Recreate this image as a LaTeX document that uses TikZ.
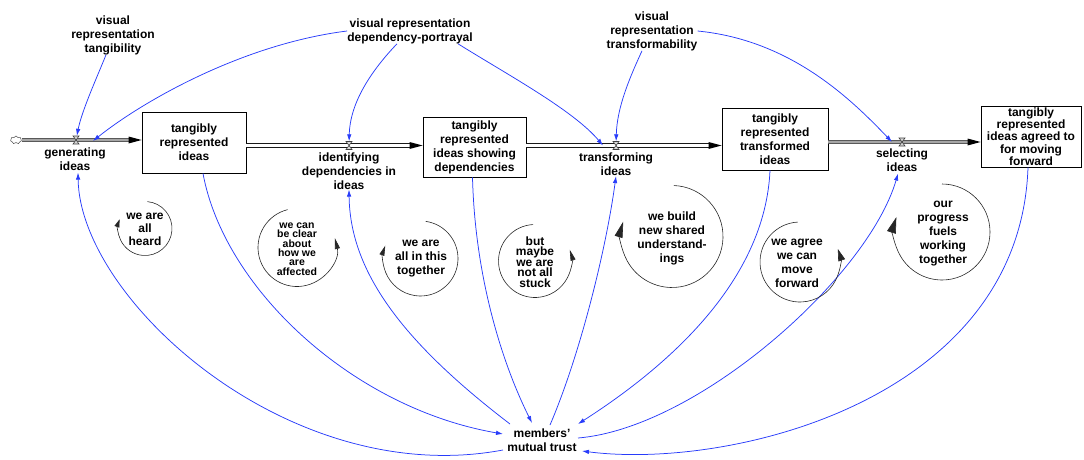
\documentclass[tikz,border=0pt]{standalone}
\usepackage{fontspec}
\setmainfont{Liberation Sans}
\usetikzlibrary{arrows.meta,shapes.symbols}
\definecolor{linkblue}{RGB}{40,60,250}
\begin{document}
\begin{tikzpicture}[x=1pt,y=-1pt,
  lbl/.style={font=\bfseries\fontsize{12}{14}\selectfont, align=center, inner sep=0pt},
  stock/.style={lbl, draw, line width=0.9pt},
  valve/.style={inner sep=0pt, minimum size=8pt},
  valveshape/.style={draw=black!75, fill=black!15, line width=0.6pt},
  pipe/.style={draw=black!90, double=white, double distance=2.6pt, line width=0.85pt},
  gpipe/.style={draw=black!65, double=black!35, double distance=2.4pt, line width=0.9pt},
  pipetip/.style={fill=black},
  link/.style={draw=linkblue, line width=0.75pt, -{Latex[length=7pt,width=4.5pt]}},
  loopline/.style={draw=black!85, line width=0.6pt},
]
\useasboundingbox (0,0) rectangle (1084,460);

% stocks
\node[stock, minimum width=104pt, minimum height=61pt] (s1) at (194,142.5) {tangibly\\represented\\ideas};
\node[stock, minimum width=103pt, minimum height=60pt] (s2) at (474.5,147) {tangibly\\represented\\ideas showing\\dependencies};
\node[stock, minimum width=106pt, minimum height=62pt] (s3) at (775,139) {tangibly\\represented\\transformed\\ideas};
\node[stock, minimum width=100pt, minimum height=61pt, font=\bfseries\fontsize{12}{11}\selectfont] (s4) at (1031,136.5) {tangibly\\represented\\ideas agreed to\\for moving\\forward};

% source cloud and valves
\node[cloud, draw=black!70, cloud puffs=7, minimum width=11pt, minimum height=8pt, inner sep=0pt, line width=0.5pt] (src) at (16,140) {};
\node[valve] (genv) at (76,140) {};
\node[valve] (identv) at (349,145.5) {};
\node[valve] (transv) at (616,145.5) {};
\node[valve] (selv) at (902,142) {};

% pipes
\coordinate (p1e) at (s1.west |- src.east);
\coordinate (p2s) at (s1.east |- identv);
\coordinate (p2e) at (s2.west |- identv);
\coordinate (p3s) at (s2.east |- transv);
\coordinate (p3e) at (s3.west |- transv);
\coordinate (p4s) at (s3.east |- selv);
\coordinate (p4e) at (s4.west |- selv);
\draw[gpipe, shorten >=11pt] (src.east) -- (p1e);
\draw[pipe, shorten >=11pt] (p2s) -- (p2e);
\draw[pipe, shorten >=11pt] (p3s) -- (p3e);
\draw[gpipe, shorten >=11pt] (p4s) -- (p4e);
\foreach \e in {p1e,p2e,p3e,p4e}
  \fill[pipetip] (\e) -- +(-13,-3.5) -- +(-13,3.5) -- cycle;
\foreach \v in {genv,identv,transv,selv}
  \draw[valveshape] (\v.center) +(-3,-4) -- +(3,-4) -- +(-3,4) -- +(3,4) -- cycle;

% rates
\node[lbl] (gen) at (75,159) {generating\\ideas};
\node[lbl] (ident) at (349,171) {identifying\\dependencies in\\ideas};
\node[lbl] (trans) at (616,164.5) {transforming\\ideas};
\node[lbl] (sel) at (902,160) {selecting\\ideas};

% auxiliaries
\node[lbl] (tang) at (113,35) {visual\\representation\\tangibility};
\node[lbl] (dep) at (410,31) {visual representation\\dependency-portrayal};
\node[lbl] (tf) at (652,31) {visual\\representation\\transformability};
\node[lbl] (trust) at (542,440) {members'\\mutual trust};

% links from auxiliaries
\draw[link] ([shift={(-7,0)}]tang.south) .. controls (98,75) and (82,110) .. (genv);
\draw[link] (dep.west) .. controls (243,44) and (143,101) .. ([shift={(17,1)}]genv.center);
\draw[link] ([shift={(-13,0)}]dep.south) .. controls (372,70) and (350,102) .. (identv);
\draw[link] ([shift={(48,0)}]dep.south) .. controls (508,75) and (573,110) .. ([shift={(-13,0)}]transv.center);
\draw[link] ([shift={(-10,0)}]tf.south) .. controls (630,77) and (617,107) .. (transv);
\draw[link] (tf.east) .. controls (790,40) and (850,98) .. ([shift={(-10,0)}]selv.center);

% links with trust
\draw[link] ([shift={(9,0)}]s1.south) .. controls (224,288) and (352,408) .. ([shift={(-39,-6)}]trust.center);
\draw[link] ([shift={(-39,10)}]trust.center) .. controls (290,490) and (80,300) .. ([shift={(3,2)}]gen.south);
\draw[link] ([shift={(-32,-16)}]trust.center) .. controls (400,340) and (350,270) .. (ident.south);
\draw[link] ([shift={(-2,0)}]s2.south) .. controls (475,277) and (502,363) .. ([shift={(-10,-17)}]trust.center);
\draw[link] ([shift={(8,-15)}]trust.center) .. controls (580,355) and (606,250) .. (trans.south);
\draw[link] ([shift={(-5,0)}]s3.south) .. controls (765,280) and (670,365) .. ([shift={(36,-16)}]trust.center);
\draw[link] ([shift={(36,-2)}]trust.center) .. controls (698,428) and (868,277) .. ([shift={(-4,2)}]sel.south);
\draw[link] ([shift={(-3,0)}]s4.south) .. controls (1020,400) and (730,470) .. ([shift={(40,11)}]trust.center);

% loops
\coordinate (c1) at (145,228.5);
\coordinate (c2) at (297,247.5);
\coordinate (c3) at (420.5,258.5);
\coordinate (c4) at (535,261);
\coordinate (c5) at (672,236.5);
\coordinate (c6) at (800,262);
\coordinate (c7) at (942,232);
\node[lbl, font=\bfseries\fontsize{12}{13}\selectfont] (l1) at (145,229) {we are\\all\\heard};
\node[lbl, font=\bfseries\fontsize{10.5}{9.3}\selectfont] (l2) at (297,249) {we can\\be clear\\about\\how we\\are\\affected};
\node[lbl] (l3) at (421,259) {we are\\all in this\\together};
\node[lbl, font=\bfseries\fontsize{12}{10.5}\selectfont] (l4) at (535,262) {but\\maybe\\we are\\not all\\stuck};
\node[lbl] (l5) at (672,238) {we build\\new shared\\understand-\\ings};
\node[lbl] (l6) at (797,263) {we agree\\we can\\move\\forward};
\node[lbl] (l7) at (943,234) {our\\progress\\fuels\\working\\together};
\draw[loopline, -{Triangle[length=8pt,width=5pt]}] ([shift={(-85:27)}]c1) arc[start angle=-85, end angle=200, radius=27];
\draw[loopline, -{Triangle[length=11pt,width=5pt]}] ([shift={(-104:39)}]c2) arc[start angle=-104, end angle=-374, radius=39];
\draw[loopline, -{Triangle[length=10pt,width=5pt]}] ([shift={(-82:37.5)}]c3) arc[start angle=-82, end angle=200, radius=37.5];
\draw[loopline, -{Triangle[length=11pt,width=5pt]}] ([shift={(-93:36.5)}]c4) arc[start angle=-93, end angle=-378, radius=36.5];
\draw[loopline, -{Triangle[length=16pt,width=8pt]}] ([shift={(-88:51)}]c5) arc[start angle=-88, end angle=197, radius=51];
\draw[loopline, -{Triangle[length=12pt,width=7pt]}] ([shift={(-93:40)}]c6) arc[start angle=-93, end angle=-379, radius=40];
\draw[loopline, -{Triangle[length=16pt,width=9pt]}] ([shift={(-90:48)}]c7) arc[start angle=-90, end angle=198, radius=48];
\end{tikzpicture}
\end{document}
